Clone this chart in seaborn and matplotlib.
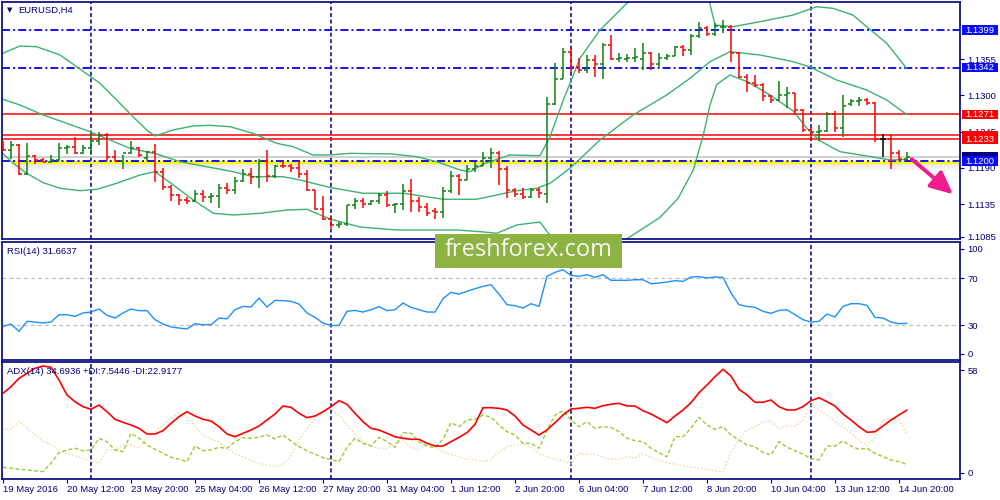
import numpy as np
import matplotlib
matplotlib.use("Agg")
import matplotlib.pyplot as plt
import matplotlib.transforms as mtransforms
import matplotlib.patheffects as pe
from matplotlib.patches import Rectangle
import seaborn as sns

sns.set_style("white")
plt.rcParams['font.family'] = ['Liberation Sans', 'DejaVu Sans']
plt.rcParams['lines.scale_dashes'] = False

# ---------------- data ----------------
opens = [1.1226,1.1217,1.1224,1.1181,1.1208,1.1202,1.1199,1.1202,1.1220,1.1222,
         1.1212,1.1220,1.1231,1.1240,1.1206,1.1201,1.1212,1.1220,1.1205,1.1214,
         1.1184,1.1161,1.1149,1.1141,1.1139,1.1150,1.1145,1.1147,1.1160,1.1156,
         1.1170,1.1180,1.1176,1.1200,1.1178,1.1193,1.1192,1.1189,1.1180,1.1156,
         1.1127,1.1113,1.1103,1.1105,1.1133,1.1140,1.1135,1.1140,1.1149,1.1133,
         1.1135,1.1154,1.1140,1.1131,1.1125,1.1123,1.1155,1.1177,1.1172,1.1188,
         1.1193,1.1205,1.1212,1.1188,1.1156,1.1150,1.1146,1.1156,1.1150,1.1286,
         1.1325,1.1366,1.1343,1.1339,1.1354,1.1347,1.1376,1.1355,1.1355,1.1357,
         1.1355,1.1364,1.1347,1.1356,1.1360,1.1373,1.1369,1.1390,1.1402,1.1393,
         1.1403,1.1404,1.1364,1.1327,1.1318,1.1315,1.1299,1.1293,1.1300,1.1303,
         1.1278,1.1247,1.1244,1.1246,1.1271,1.1250,1.1286,1.1291,1.1293,1.1289,
         1.1234,1.1234,1.1212,1.1203]
highs = [1.1230,1.1230,1.1226,1.1227,1.1209,1.1205,1.1209,1.1227,1.1224,1.1236,
         1.1224,1.1241,1.1244,1.1243,1.1217,1.1209,1.1231,1.1222,1.1215,1.1226,
         1.1189,1.1164,1.1150,1.1145,1.1157,1.1157,1.1152,1.1165,1.1167,1.1176,
         1.1188,1.1190,1.1203,1.1217,1.1194,1.1200,1.1195,1.1200,1.1186,1.1157,
         1.1147,1.1115,1.1107,1.1134,1.1144,1.1144,1.1141,1.1151,1.1155,1.1136,
         1.1165,1.1173,1.1145,1.1136,1.1129,1.1161,1.1185,1.1181,1.1194,1.1199,
         1.1214,1.1220,1.1215,1.1192,1.1160,1.1159,1.1159,1.1159,1.1297,1.1349,
         1.1371,1.1371,1.1357,1.1361,1.1361,1.1379,1.1391,1.1364,1.1362,1.1371,
         1.1379,1.1365,1.1364,1.1362,1.1374,1.1376,1.1393,1.1411,1.1405,1.1409,
         1.1414,1.1406,1.1365,1.1333,1.1331,1.1318,1.1301,1.1321,1.1313,1.1304,
         1.1279,1.1252,1.1255,1.1274,1.1276,1.1301,1.1295,1.1298,1.1296,1.1290,
         1.1241,1.1241,1.1217,1.1214]
lows = [1.1216,1.1204,1.1179,1.1179,1.1195,1.1198,1.1197,1.1201,1.1211,1.1211,
        1.1211,1.1210,1.1224,1.1200,1.1200,1.1188,1.1211,1.1206,1.1200,1.1168,
        1.1157,1.1140,1.1133,1.1135,1.1138,1.1138,1.1136,1.1129,1.1150,1.1150,
        1.1169,1.1166,1.1159,1.1168,1.1174,1.1189,1.1184,1.1174,1.1154,1.1126,
        1.1111,1.1098,1.1098,1.1101,1.1127,1.1129,1.1133,1.1135,1.1131,1.1121,
        1.1126,1.1123,1.1123,1.1117,1.1113,1.1114,1.1151,1.1148,1.1171,1.1184,
        1.1192,1.1190,1.1164,1.1144,1.1146,1.1143,1.1144,1.1144,1.1136,1.1285,
        1.1324,1.1336,1.1334,1.1334,1.1328,1.1324,1.1354,1.1351,1.1351,1.1351,
        1.1338,1.1339,1.1343,1.1353,1.1359,1.1360,1.1361,1.1387,1.1390,1.1390,
        1.1394,1.1351,1.1326,1.1305,1.1312,1.1291,1.1289,1.1292,1.1281,1.1270,
        1.1244,1.1232,1.1231,1.1245,1.1244,1.1236,1.1283,1.1284,1.1285,1.1229,
        1.1207,1.1188,1.1200,1.1202]
closes = [1.1217,1.1224,1.1181,1.1208,1.1202,1.1199,1.1202,1.1220,1.1222,1.1212,
          1.1220,1.1231,1.1240,1.1206,1.1201,1.1212,1.1220,1.1209,1.1214,1.1184,
          1.1161,1.1149,1.1141,1.1139,1.1150,1.1145,1.1147,1.1160,1.1156,1.1170,
          1.1180,1.1176,1.1200,1.1178,1.1193,1.1192,1.1189,1.1180,1.1156,1.1127,
          1.1113,1.1103,1.1105,1.1133,1.1140,1.1135,1.1140,1.1149,1.1133,1.1135,
          1.1154,1.1140,1.1131,1.1122,1.1123,1.1155,1.1177,1.1172,1.1188,1.1193,
          1.1205,1.1212,1.1188,1.1156,1.1150,1.1146,1.1156,1.1152,1.1286,1.1325,
          1.1366,1.1343,1.1338,1.1354,1.1347,1.1376,1.1355,1.1356,1.1357,1.1358,
          1.1364,1.1347,1.1356,1.1360,1.1373,1.1369,1.1390,1.1402,1.1393,1.1405,
          1.1404,1.1364,1.1327,1.1318,1.1315,1.1299,1.1293,1.1300,1.1303,1.1278,
          1.1247,1.1244,1.1246,1.1271,1.1250,1.1284,1.1291,1.1293,1.1289,1.1234,
          1.1234,1.1212,1.1204,1.1206]

bb_up_x = [-0.04,2.125,4.21,7.125,9.21,12.125,14.21,16.25,17.96,19.0,21.25,23.75,25.875,28.375,
           31.25,34.21,36.25,38.75,40.875,43.375,48.59,51.71,54.21,57.125,58.375,60.04,63.375,
           67.125,68.375,70.04,72.125,74.625,76.5,77.96,79.625,82.125,84.625,86.75,88.25,89.0,
           91.25,94.625,98.75,101.71,103.75,106.25,107.96,110.46,112.96]
bb_up = [1.13636,1.13747,1.13737,1.13611,1.13433,1.13181,1.12928,1.12675,1.12473,1.12382,
         1.12473,1.12534,1.12544,1.12523,1.12423,1.12271,1.12220,1.12094,1.12094,1.12119,
         1.12109,1.12068,1.11992,1.11866,1.11840,1.11957,1.12094,1.12083,1.12371,1.12928,
         1.13561,1.13990,1.14217,1.14395,1.14551,1.14657,1.14824,1.14718,1.14445,1.14066,
         1.14040,1.14116,1.14217,1.14343,1.14319,1.14217,1.14040,1.13788,1.13409]
bb_mid_x = [-0.04,2.125,5.04,7.96,10.875,13.375,15.875,19.21,22.125,25.46,28.79,31.29,35.04,
            37.125,40.875,45.04,50.04,55.04,59.21,61.71,64.21,66.71,68.375,70.875,74.625,78.75,
            82.96,85.875,88.375,90.875,94.625,98.79,100.875,104.21,107.96,110.46,112.96]
bb_mid = [1.12939,1.12852,1.12700,1.12575,1.12447,1.12321,1.12195,1.12109,1.11992,1.11916,
          1.11840,1.11764,1.11764,1.11714,1.11601,1.11513,1.11513,1.11422,1.11422,1.11487,
          1.11552,1.11588,1.11664,1.11892,1.12321,1.12700,1.13004,1.13257,1.13509,1.13661,
          1.13611,1.13509,1.13429,1.13231,1.13080,1.12928,1.12708]
bb_lo_x = [-0.04,1.29,2.96,5.04,7.125,9.625,11.71,14.21,17.125,19.0,21.29,23.79,26.29,28.79,
           32.125,35.46,37.96,40.875,44.625,49.21,53.375,56.71,60.04,61.71,64.21,67.125,68.16,
           69.21,70.25,72.125,74.625,76.5,77.75,82.125,84.375,86.29,87.54,88.375,89.21,90.875,
           93.125,95.875,98.79,100.46,102.125,104.625,107.96,110.875,112.96]
bb_lo = [1.12119,1.11968,1.11816,1.11673,1.11589,1.11552,1.11573,1.11664,1.11790,1.11840,
         1.11639,1.11411,1.11209,1.11183,1.11209,1.11259,1.11270,1.11123,1.11001,1.10956,
         1.10956,1.10956,1.10926,1.10906,1.11032,1.11077,1.10906,1.10804,1.10577,1.10470,
         1.10531,1.10653,1.10804,1.11146,1.11434,1.11866,1.12397,1.12852,1.13164,1.13307,
         1.13201,1.13004,1.12761,1.12503,1.12307,1.12144,1.12079,1.12018,1.12026]

rsi = [29.1,31.1,24.9,33.4,32.8,32.0,32.8,39.0,39.0,37.6,
       40.5,41.3,43.9,38.5,36.2,40.5,43.9,42.5,42.5,34.8,
       31.1,28.6,27.7,26.9,31.4,30.5,30.5,36.2,35.6,43.3,
       46.1,45.6,53.2,45.6,51.2,51.0,50.4,48.1,40.5,36.8,
       32.0,29.7,30.0,41.9,42.7,41.3,43.3,45.9,42.5,43.3,
       49.0,45.3,43.3,41.3,41.3,52.7,58.1,56.6,58.9,61.2,
       63.2,64.6,56.6,47.6,46.7,44.7,48.4,46.1,71.7,75.1,
       77.3,72.5,71.7,73.1,70.8,73.1,68.3,68.3,68.3,68.8,
       68.8,65.4,66.0,66.9,68.0,67.4,71.1,71.4,70.3,71.1,
       70.8,57.5,47.6,46.1,45.3,41.9,40.2,42.7,43.3,39.0,
       34.8,32.8,33.4,39.6,37.1,46.1,48.4,48.4,47.0,36.8,
       36.2,32.8,31.4,31.66]

adx = [43.1,46.4,50.6,53.1,55.6,56.75,56.1,49.75,42.25,38.9,
       36.4,35.1,37.25,33.9,30.1,28.6,27.25,25.6,22.75,22.75,
       24.4,28.1,31.4,33.9,31.75,30.1,29.25,26.4,22.75,21.4,
       23.1,24.75,26.75,29.75,32.75,36.75,36.1,33.1,30.9,31.75,
       33.9,36.4,39.4,37.6,33.1,28.9,25.6,24.75,23.1,21.4,
       20.6,20.1,20.1,18.1,16.75,16.75,18.9,21.1,23.4,27.6,
       35.9,35.9,35.6,34.75,31.75,27.25,24.75,22.25,24.75,28.4,
       32.25,35.25,35.6,36.1,35.6,36.9,37.6,38.1,36.75,36.75,
       34.4,32.75,30.6,28.4,31.75,34.75,38.4,43.4,47.25,51.4,
       55.1,51.75,45.1,42.25,38.6,38.6,39.75,36.4,34.75,34.75,
       36.4,39.4,40.9,38.9,36.75,32.75,29.75,26.4,23.6,23.9,
       26.75,29.75,32.25,34.69]
plus_di = [6.1,5.6,5.1,4.75,4.4,3.9,8.1,13.4,14.75,15.6,
           14.4,14.75,20.6,18.9,14.75,13.9,23.1,20.6,17.25,15.1,
           13.1,11.1,10.1,8.9,16.75,14.4,14.75,16.1,15.6,18.9,
           20.9,20.6,21.1,22.25,20.25,22.25,19.25,16.4,14.4,12.6,
           10.9,10.1,8.9,16.1,20.6,18.1,16.75,21.1,18.9,16.1,
           23.4,23.1,18.9,16.75,15.9,20.1,28.4,26.4,29.75,30.1,
           32.25,31.1,27.25,23.9,22.25,18.1,18.1,15.6,24.75,32.25,
           34.4,29.75,26.4,28.9,25.6,26.4,26.1,23.9,20.6,19.4,
           18.9,15.6,13.4,11.4,21.4,21.4,25.6,31.1,27.25,25.1,
           26.4,22.25,19.75,17.25,16.4,13.6,12.25,18.9,16.1,14.4,
           12.6,10.6,9.75,16.75,16.75,19.25,16.75,15.1,15.6,13.1,
           11.4,9.75,8.9,7.54]
minus_di = [25.1,25.1,29.25,25.6,22.5,19.0,17.6,14.75,13.0,11.8,
            10.5,9.25,8.1,14.75,14.75,17.25,17.25,15.6,20.6,23.9,
            27.25,30.6,33.1,31.4,26.4,22.25,20.25,18.9,15.9,12.75,
            11.5,9.5,8.2,7.2,6.5,7.5,12.0,20.0,25.5,30.5,
            33.5,35.1,32.25,27.25,22.75,18.9,16.75,15.6,15.6,18.1,
            19.75,16.1,14.75,18.1,16.1,14.0,12.6,11.4,10.1,9.75,
            9.0,10.0,13.9,16.4,17.25,18.1,16.1,13.1,11.4,10.1,
            9.4,7.75,13.1,12.6,12.6,11.1,10.1,10.1,11.4,10.6,
            12.75,11.1,9.75,8.4,7.75,6.75,6.1,5.6,5.1,4.25,
            3.75,13.9,19.75,24.75,26.4,28.9,29.25,25.6,26.75,26.75,
            29.75,37.25,34.75,32.25,28.9,26.4,23.1,19.75,16.75,20.9,
            29.75,30.6,29.75,22.92]

blue_levels = [1.1399, 1.1342, 1.1200]
red_levels = [1.1271, 1.1239, 1.1233]
yellow_level = 1.1199
bid_price = 1.1206
week_starts = [11, 41, 71, 101]
main_ticks = [1.1355, 1.1300, 1.1245, 1.1190, 1.1135, 1.1085]
x_tick_pos = list(range(0, 113, 8))
x_tick_labels = ["19 May 2016", "20 May 12:00", "23 May 20:00", "25 May 04:00", "26 May 12:00",
                 "27 May 20:00", "31 May 04:00", "1 Jun 12:00", "2 Jun 20:00", "6 Jun 04:00",
                 "7 Jun 12:00", "8 Jun 20:00", "10 Jun 04:00", "13 Jun 12:00", "14 Jun 20:00"]
arrow_from = (113.6, 1.1203)
arrow_to = (118.75, 1.1150)

# ---------------- figure ----------------
NAVY = '#000080'
W, H = 1000, 500
fig = plt.figure(figsize=(10, 5), dpi=100)
fig.patch.set_facecolor('white')


def fx(px):
    return px / W


def fy(py):
    return 1 - py / H


ax_main = fig.add_axes([fx(2), fy(239), fx(958), fy(2) - fy(239)])
ax_rsi = fig.add_axes([fx(2), fy(360), fx(958), fy(242) - fy(360)])
ax_adx = fig.add_axes([fx(2), fy(479), fx(958), fy(362) - fy(479)])

XMIN, XMAX = -0.125, 119.625
for ax in (ax_main, ax_rsi, ax_adx):
    ax.set_xlim(XMIN, XMAX)
    ax.set_facecolor('white')
    for s in ax.spines.values():
        s.set_color(NAVY)
        s.set_linewidth(1.2)
    ax.yaxis.tick_right()
    ax.tick_params(axis='y', which='both', direction='out', length=3, width=0.8,
                   color=NAVY, labelcolor=NAVY, labelsize=6.8, pad=2.5, left=False, right=True)
    for w in week_starts:
        ax.axvline(w, color=NAVY, lw=1.1, ls=(0, (2.9, 1.8)), zorder=1.5)

ax_main.set_xticks([])
ax_rsi.set_xticks([])

# ---- main panel ----
ax_main.set_ylim(1.10819, 1.14415)
ax_main.set_yticks(main_ticks)
ax_main.set_yticklabels([f"{v:.4f}" for v in main_ticks])

# yellow line with its soft shadow
xs = [1.1, XMAX]
for k in range(10):
    top = yellow_level - 0.00008 - k * 0.00015
    ax_main.fill_between(xs, top - 0.00015, top, color='#8a8a8a',
                         alpha=0.22 * (1 - k / 10), lw=0, zorder=1)
ax_main.plot(xs, [yellow_level, yellow_level], color='#FFFF00', lw=2.2, zorder=2)
ax_main.axhline(bid_price, color='#C4C4C4', lw=1.1, zorder=1.8)
for lv in red_levels:
    ax_main.axhline(lv, color='#FF0000', lw=1.1, zorder=2.2)
for lv in blue_levels:
    ax_main.axhline(lv, color='#0000FF', lw=1.3, ls=(0, (5.8, 2.2, 1.4, 2.2)), zorder=2.3)

bb_col = '#3CB371'
sns.lineplot(x=bb_up_x, y=bb_up, ax=ax_main, color=bb_col, lw=1, legend=False, zorder=2.5)
sns.lineplot(x=bb_mid_x, y=bb_mid, ax=ax_main, color=bb_col, lw=1, legend=False, zorder=2.5)
sns.lineplot(x=bb_lo_x, y=bb_lo, ax=ax_main, color=bb_col, lw=1, legend=False, zorder=2.5)

bar = np.arange(len(closes))
o = np.array(opens); h = np.array(highs); l = np.array(lows); c = np.array(closes)
cols = ['#118011' if cc > oo else ('#FF0000' if cc < oo else '#000000') for oo, cc in zip(o, c)]
ax_main.vlines(bar, l, h, colors=cols, lw=1.1, zorder=4)
ax_main.hlines(o, bar - 0.4, bar, colors=cols, lw=1.1, zorder=4)
ax_main.hlines(c, bar, bar + 0.4, colors=cols, lw=1.1, zorder=4)

ax_main.annotate('', xy=arrow_to, xytext=arrow_from, annotation_clip=False,
                 arrowprops=dict(arrowstyle='-|>,head_length=0.9,head_width=0.42',
                                 mutation_scale=15, color='#EE1C8C', lw=2.8,
                                 shrinkA=0, shrinkB=0,
                                 path_effects=[pe.withSimplePatchShadow(offset=(2, -2), alpha=0.3)]),
                 zorder=6)

# price labels on the right
blend = mtransforms.blended_transform_factory(fig.transFigure, ax_main.transData)
ylo, yhi = ax_main.get_ylim()
per_px = (yhi - ylo) / 237.0
box_h = 9.5 * per_px


def price_box(p, face, show_text=True):
    ax_main.add_patch(Rectangle((fx(962), p - box_h / 2), fx(36), box_h, transform=blend,
                                facecolor=face, edgecolor='none', clip_on=False, zorder=6))
    if show_text:
        ax_main.text(fx(980), p, f"{p:.4f}", transform=blend, ha='center', va='center',
                     color='white', fontsize=6.8, clip_on=False, zorder=7)


price_box(blue_levels[0], '#0A0AFF')
price_box(blue_levels[1], '#0A0AFF')
price_box(red_levels[0], '#FF0000')
price_box(red_levels[1], '#FF0000', show_text=False)   # hidden under 1.1233 label
price_box(red_levels[2], '#FF0000')
price_box(bid_price + 0.00005, '#000080', show_text=False)  # hidden under 1.1200 label
price_box(blue_levels[2], '#0A0AFF')

# ---- RSI panel ----
ax_rsi.set_ylim(0.5, 100.9)
ax_rsi.axhline(70, color='#C0C0C0', lw=0.9, ls=(0, (2.9, 2.2)), zorder=1)
ax_rsi.axhline(30, color='#C0C0C0', lw=0.9, ls=(0, (2.9, 2.2)), zorder=1)
sns.lineplot(x=bar, y=rsi, ax=ax_rsi, color='#1E90FF', lw=1, legend=False, zorder=3)
ax_rsi.set_yticks([95, 70, 30, 5.8])
ax_rsi.set_yticklabels(['100', '70', '30', '0'])

# ---- ADX panel ----
ax_adx.set_ylim(0.25, 58.75)
sns.lineplot(x=bar, y=minus_di, ax=ax_adx, color='#F3D9AE', lw=1,
             linestyle=(0, (1.2, 1.4)), legend=False, zorder=2)
sns.lineplot(x=bar, y=plus_di, ax=ax_adx, color='#9ACD32', lw=1,
             linestyle=(0, (2.9, 1.6)), legend=False, zorder=2.2)
sns.lineplot(x=bar, y=adx, ax=ax_adx, color='#FF0000', lw=1.2, legend=False, zorder=3)
ax_adx.set_yticks([54.75, 3.4])
ax_adx.set_yticklabels(['58', '0'])
ax_adx.set_xticks(x_tick_pos)
ax_adx.set_xticklabels(x_tick_labels)
ax_adx.tick_params(axis='x', direction='out', length=3, width=0.8, color=NAVY,
                   labelcolor=NAVY, labelsize=6.8, pad=1, bottom=True)
for t in ax_adx.get_xticklabels():
    t.set_horizontalalignment('left')

for ax in (ax_main, ax_rsi, ax_adx):
    ax.set_xlabel('')
    ax.set_ylabel('')

# ---- texts ----
fig.text(fx(6.5), fy(10), '\u25BC', fontsize=5, color=NAVY, va='center', ha='left',
         family=['DejaVu Sans'])
fig.text(fx(18), fy(10), 'EURUSD,H4', fontsize=6.8, color=NAVY, va='center', ha='left')
fig.text(fx(7), fy(251.5), 'RSI(14) 31.6637', fontsize=6.8, color=NAVY, va='center', ha='left')
fig.text(fx(7), fy(371.5), 'ADX(14) 34.6936 +DI:7.5446 -DI:22.9177', fontsize=6.8,
         color=NAVY, va='center', ha='left')

# watermark
fig.patches.append(Rectangle((fx(435), fy(268)), fx(187), 34 / H, transform=fig.transFigure,
                             facecolor='#8DB443', edgecolor='none', zorder=10))
fig.text(fx(528.5), fy(250.5), 'freshforex.com', ha='center', va='center', color='#F6F6F6',
         fontsize=17, family=['Open Sans', 'DejaVu Sans'], zorder=11)

fig.savefig('out.png', dpi=100)
